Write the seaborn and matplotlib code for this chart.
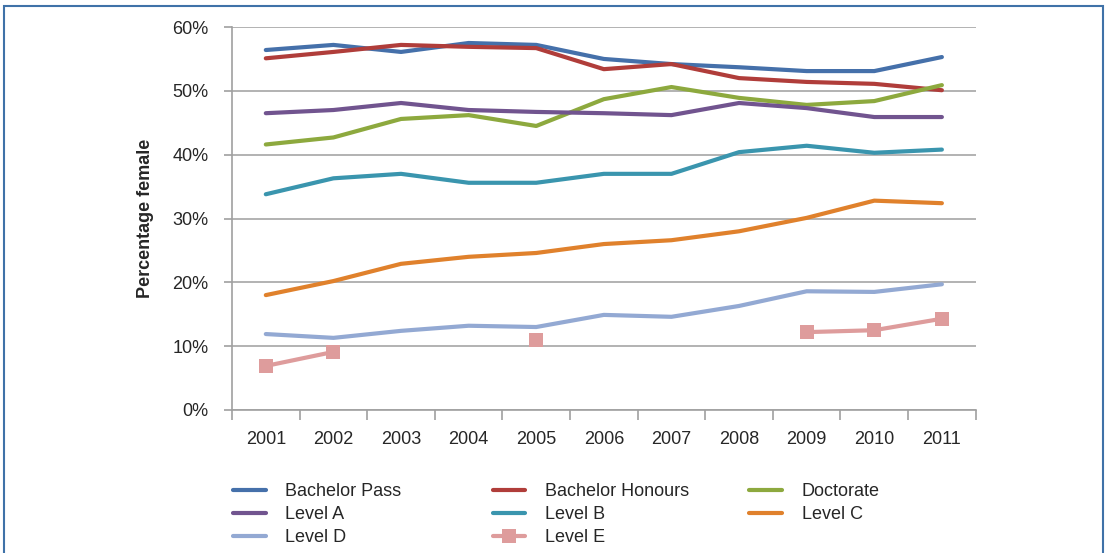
import matplotlib
matplotlib.use("Agg")
import matplotlib.pyplot as plt
import matplotlib.patches as patches
from matplotlib.lines import Line2D
import seaborn as sns
import numpy as np
import pandas as pd

years = ["2001", "2002", "2003", "2004", "2005", "2006", "2007", "2008", "2009", "2010", "2011"]

bachelor_pass = [56.4, 57.2, 56.1, 57.5, 57.2, 55.0, 54.2, 53.7, 53.1, 53.1, 55.3]
bachelor_honours = [55.1, 56.1, 57.2, 56.9, 56.7, 53.4, 54.2, 52.0, 51.4, 51.1, 50.1]
doctorate = [41.6, 42.7, 45.6, 46.2, 44.5, 48.7, 50.6, 48.9, 47.8, 48.4, 50.9]
level_a = [46.5, 47.0, 48.1, 47.0, 46.7, 46.5, 46.2, 48.1, 47.3, 45.9, 45.9]
level_b = [33.8, 36.3, 37.0, 35.6, 35.6, 37.0, 37.0, 40.4, 41.4, 40.3, 40.8]
level_c = [18.0, 20.2, 22.9, 24.0, 24.6, 26.0, 26.6, 28.0, 30.1, 32.8, 32.4]
level_d = [11.9, 11.3, 12.4, 13.2, 13.0, 14.9, 14.6, 16.3, 18.6, 18.5, 19.7]
level_e = [6.9, 9.1, np.nan, np.nan, 11.0, np.nan, np.nan, np.nan, 12.2, 12.5, 14.3]

series = {
    "Bachelor Pass": bachelor_pass,
    "Bachelor Honours": bachelor_honours,
    "Doctorate": doctorate,
    "Level A": level_a,
    "Level B": level_b,
    "Level C": level_c,
    "Level D": level_d,
    "Level E": level_e,
}
colors = {
    "Bachelor Pass": "#4570AA",
    "Bachelor Honours": "#B03D3A",
    "Doctorate": "#8DA93E",
    "Level A": "#71548F",
    "Level B": "#3A95AE",
    "Level C": "#E0812C",
    "Level D": "#93A9D3",
    "Level E": "#DE9C9C",
}

# long table; split each series into runs so NaN gaps break the line
rows = []
for name, vals in series.items():
    seg = 0
    for i, v in enumerate(vals):
        if np.isnan(v):
            seg += 1
            continue
        rows.append({"series": name, "x": i, "value": v, "unit": f"{name}-{seg}"})
df = pd.DataFrame(rows)

sns.set_style("white")
plt.rcParams["font.family"] = ["Liberation Sans Narrow", "Liberation Sans", "DejaVu Sans"]

fig = plt.figure(figsize=(11.1, 5.53), dpi=100)
ax = fig.add_axes([0.209, 0.2586, 0.670, 0.6925])

for name in series:
    sub = df[df["series"] == name]
    is_e = name == "Level E"
    sns.lineplot(data=sub, x="x", y="value", units="unit", estimator=None,
                 color=colors[name], lw=3, ax=ax,
                 marker="s" if is_e else None, markersize=10 if is_e else None,
                 markeredgewidth=0, legend=False)

ax.set_xlim(-0.5, 10.5)
ax.set_ylim(0, 60)
ax.set_yticks(np.arange(0, 61, 10))
ax.set_yticklabels([f"{v}%" for v in range(0, 61, 10)])
ax.set_xticks(np.arange(-0.5, 11, 1))
ax.set_xticklabels([])
ax.set_xticks(np.arange(11), minor=True)
ax.set_xticklabels(years, minor=True)
ax.tick_params(axis="x", which="major", length=7, color="#a0a0a0", width=1.2, direction="out", bottom=True)
ax.tick_params(axis="x", which="minor", length=0, pad=15, labelsize=13)
ax.tick_params(axis="y", length=6, color="#a0a0a0", width=1.2, direction="out", left=True, labelsize=13, pad=11)
ax.grid(axis="y", color="#a6a6a6", lw=1.2)
ax.set_axisbelow(True)
for s in ["top", "right"]:
    ax.spines[s].set_visible(False)
for s in ["left", "bottom"]:
    ax.spines[s].set_color("#a0a0a0")
    ax.spines[s].set_linewidth(1.2)
ax.set_xlabel("")
ax.set_ylabel("Percentage female", fontsize=13, fontweight="bold", labelpad=13)

def handle(name):
    if name == "Level E":
        return Line2D([], [], color=colors[name], lw=3, marker="s", markersize=10, markeredgewidth=0)
    return Line2D([], [], color=colors[name], lw=3)

# legend: three columns, read row-wise like the original
cols = [["Bachelor Pass", "Level A", "Level D"],
        ["Bachelor Honours", "Level B", "Level E"],
        ["Doctorate", "Level C"]]
xs = [0.210, 0.444, 0.675]
for col, x0 in zip(cols, xs):
    fig.legend([handle(n) for n in col], col, loc="upper left", bbox_to_anchor=(x0, 0.126),
               frameon=False, fontsize=13, handlelength=1.8, handletextpad=1.1,
               labelspacing=0.32, borderaxespad=0, borderpad=0)

fig.patches.append(patches.Rectangle((0.004, -0.01), 0.990, 1.0, transform=fig.transFigure,
                                     fill=False, edgecolor="#3F72A8", lw=1.5))

fig.savefig("out.png", dpi=100)
